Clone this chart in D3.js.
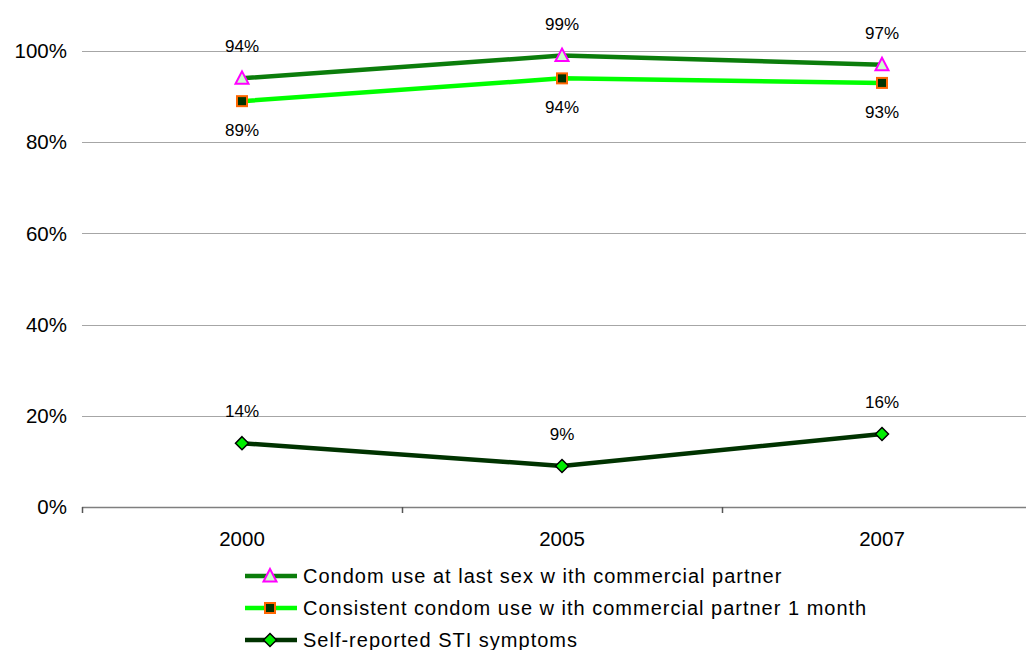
<!DOCTYPE html>
<html>
<head>
<meta charset="utf-8">
<script src="https://cdn.jsdelivr.net/npm/d3@7"></script>
<style>
  html, body { margin: 0; padding: 0; background: #fff; }
  svg { display: block; font-family: "Liberation Sans", Arial, sans-serif; }
</style>
</head>
<body>
<svg id="chart" width="1026" height="650"></svg>
<script>
const categories = ["2000", "2005", "2007"];
const seriesNames = [
  "Condom use at last sex w ith commercial partner",
  "Consistent condom use w ith commercial partner 1 month",
  "Self-reported STI symptoms"
];
const condomLastSex = [94, 99, 97];
const consistentCondom = [89, 94, 93];
const stiSymptoms = [14, 9, 16];
const yTicks = [0, 20, 40, 60, 80, 100];

const series = [
  { name: seriesNames[0], values: condomLastSex, line: "#0b7d0b", marker: "triangle", fill: "#ccffcc", stroke: "#ff00ff", labelPos: "above" },
  { name: seriesNames[1], values: consistentCondom, line: "#00ff00", marker: "square", fill: "#003300", stroke: "#ff6600", labelPos: "below" },
  { name: seriesNames[2], values: stiSymptoms, line: "#003300", marker: "diamond", fill: "#00ee00", stroke: "#000000", labelPos: "above" }
];

const svg = d3.select("#chart");
const plotLeft = 82, plotRight = 1042, plotTop = 51, plotBottom = 507;

const x = d3.scaleBand().domain(categories).range([plotLeft, plotRight]).paddingInner(0).paddingOuter(0);
const y = d3.scaleLinear().domain([0, 100]).range([plotBottom, plotTop]);

// gridlines
svg.append("g").selectAll("line").data(yTicks.filter(d => d > 0)).join("line")
  .attr("x1", plotLeft).attr("x2", 1026)
  .attr("y1", d => Math.round(y(d)) + 0.5).attr("y2", d => Math.round(y(d)) + 0.5)
  .attr("stroke", "#a6a6a6").attr("stroke-width", 1);

// y tick labels
svg.append("g").selectAll("text").data(yTicks).join("text")
  .attr("x", 67).attr("y", d => y(d)).attr("dy", "0.35em")
  .attr("text-anchor", "end").attr("font-size", 20.5).attr("fill", "#000")
  .text(d => d + "%");

// x axis
const xAxis = svg.append("g");
xAxis.append("line").attr("x1", plotLeft).attr("x2", 1026).attr("y1", plotBottom + 0.5).attr("y2", plotBottom + 0.5)
  .attr("stroke", "#7f7f7f").attr("stroke-width", 1.5);
xAxis.selectAll("line.tick").data(categories).join("line").attr("class", "tick")
  .attr("x1", d => Math.round(x(d)) + 0.5).attr("x2", d => Math.round(x(d)) + 0.5)
  .attr("y1", plotBottom).attr("y2", plotBottom + 6)
  .attr("stroke", "#555").attr("stroke-width", 1.5);
xAxis.selectAll("text").data(categories).join("text")
  .attr("x", d => x(d) + x.bandwidth() / 2).attr("y", 539).attr("dy", "0.35em")
  .attr("text-anchor", "middle").attr("font-size", 20.5).text(d => d);

const cx = d => x(d) + x.bandwidth() / 2;

function drawMarker(g, type, fill, stroke) {
  if (type === "triangle") {
    g.append("path").attr("d", "M0,-7L6.5,5.5L-6.5,5.5Z").attr("fill", fill).attr("stroke", stroke).attr("stroke-width", 2);
  } else if (type === "square") {
    g.append("rect").attr("x", -5).attr("y", -5).attr("width", 10).attr("height", 10).attr("fill", fill).attr("stroke", stroke).attr("stroke-width", 2);
  } else {
    g.append("path").attr("d", "M0,-6.5L6.5,0L0,6.5L-6.5,0Z").attr("fill", fill).attr("stroke", stroke).attr("stroke-width", 1.5);
  }
}

const line = d3.line().x((d, i) => cx(categories[i])).y(d => y(d));

series.forEach(s => {
  svg.append("path").datum(s.values).attr("d", line)
    .attr("fill", "none").attr("stroke", s.line).attr("stroke-width", 4.5).attr("stroke-linejoin", "round");
});
series.forEach(s => {
  s.values.forEach((v, i) => {
    const g = svg.append("g").attr("transform", `translate(${cx(categories[i])},${y(v)})`);
    drawMarker(g, s.marker, s.fill, s.stroke);
    svg.append("text")
      .attr("x", cx(categories[i]))
      .attr("y", y(v) + (s.labelPos === "above" ? -32 : 29))
      .attr("dy", "0.35em").attr("text-anchor", "middle").attr("font-size", 17)
      .text(v + "%");
  });
});

// legend
const legendY = [576, 608, 640];
series.forEach((s, i) => {
  const g = svg.append("g").attr("transform", `translate(0,${legendY[i]})`);
  g.append("line").attr("x1", 245).attr("x2", 297).attr("y1", 0).attr("y2", 0)
    .attr("stroke", s.line).attr("stroke-width", 4.5);
  const m = g.append("g").attr("transform", "translate(270,0)");
  drawMarker(m, s.marker, s.fill, s.stroke);
  g.append("text").attr("x", 303).attr("y", 0).attr("dy", "0.35em")
    .attr("font-size", 20).attr("letter-spacing", 1).text(s.name);
});
</script>
</body>
</html>
